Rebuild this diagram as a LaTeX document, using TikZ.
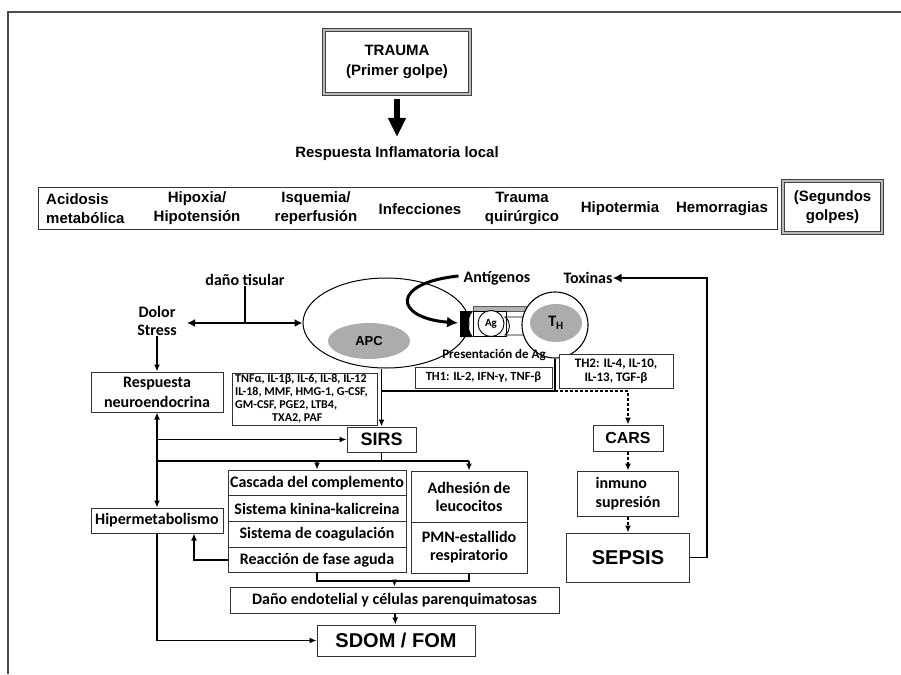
\documentclass[tikz,border=0pt]{standalone}
\usepackage{fontspec}
\setmainfont{Liberation Sans}
\newfontfamily\calib{Carlito}
\usetikzlibrary{arrows.meta,shapes.geometric,calc}
\begin{document}
\begin{tikzpicture}[x=1pt,y=-1pt,
  conn/.style={line width=1.8pt, draw=black},
  arr/.style={-{Latex[length=7pt,width=6pt]}},
  dconn/.style={line width=1.6pt, draw=black, dash pattern=on 3pt off 2pt},
  box/.style={draw=black!80, line width=1pt, fill=white, inner sep=0pt, align=center},
  bigbox/.style={draw=black!75, line width=1.3pt, double=gray!55, double distance=1.3pt, inner sep=0pt, align=center},
  ar15/.style={font=\fontsize{15}{19}\selectfont\bfseries, inner sep=0pt, align=center},
  cal16/.style={font=\calib\bfseries\fontsize{16}{19}\selectfont, inner sep=0pt, align=center},
  cal13/.style={font=\calib\bfseries\fontsize{13}{14}\selectfont, inner sep=0pt, align=center},
  cal12/.style={font=\calib\bfseries\fontsize{12}{13}\selectfont, inner sep=0pt, align=left},
  grayfill/.style={fill=gray!65},
]
\useasboundingbox (0,0) rectangle (901,674);
% frame
\draw[draw=black!70, line width=1.3pt] (8,674) -- (8,12) -- (901,12);

% top
\node[bigbox, minimum width=146pt, minimum height=64pt, font=\fontsize{15}{20}\selectfont\bfseries] (trauma) at (397,62) {TRAUMA\\(Primer golpe)};
\node[ar15] (resp) at (397,154) {Respuesta Inflamatoria local};
\draw[line width=6pt, -{Triangle[width=17pt,length=19pt]}] ([yshift=-4pt]trauma.south) -- ([yshift=10pt]resp.north);

% row of second hits
\node[box, minimum width=739pt, minimum height=42pt] (row) at (407.5,208) {};
\node[ar15, align=left, anchor=west] (acid) at (46,208.5) {Acidosis\\metabólica};
\node[ar15] (hipox) at (197,208.5) {Hipoxia/\\Hipotensión};
\node[ar15] (isq) at (316,208.5) {Isquemia/\\reperfusión};
\node[ar15] (inf) at (420,209) {Infecciones};
\node[ar15] (trq) at (522,208.5) {Trauma\\quirúrgico};
\node[ar15] (hipot) at (620,209) {Hipotermia};
\node[ar15] (hemo) at (722,209) {Hemorragias};
\node[bigbox, minimum width=99pt, minimum height=52pt, font=\fontsize{15}{19}\selectfont\bfseries] (seg) at (832.5,207) {(Segundos\\golpes)};

% APC cell
\node[draw=black, line width=1pt, ellipse, fill=white, minimum width=166pt, minimum height=90pt] (apc) at (386,323) {};
\node[ellipse, grayfill, minimum width=82pt, minimum height=36pt, inner sep=0pt, font=\fontsize{13}{15}\selectfont\bfseries] (apcin) at (369,341) {APC};

% receptor and MHC complex
\fill[black] (460,311) -- (473,311) .. controls (467,318) and (467,330) .. (473,337) -- (460,337) -- cycle;
\draw[draw=gray!70!black, fill=gray!60, line width=0.6pt] (473,306) rectangle (531,311);
\draw[line width=0.9pt, fill=white] (473,311) rectangle (506,336);
\draw[line width=0.9pt, fill=white] (505,317) -- (529,317) -- (529,335) -- (505,335) .. controls (511,331) and (511,321) .. (505,317) -- cycle;
\node[circle, draw=black, line width=0.9pt, fill=white, minimum size=26pt, inner sep=0pt, font=\calib\bfseries\fontsize{11}{12}\selectfont] (ag) at (491,323.5) {Ag};

% TH cell
\node[circle, draw=black, line width=1.1pt, fill=white, minimum size=66pt, inner sep=0pt] (th) at (555,325) {};
\node[ellipse, grayfill, minimum width=52pt, minimum height=38pt, inner sep=0pt, font=\calib\bfseries\fontsize{16}{18}\selectfont] (thin) at (556,323) {T\textsubscript{H}};

% labels near cells
\node[cal16] (ant) at (497,278) {Antígenos};
\node[cal16] (tox) at (588,278) {Toxinas};
\node[cal16] (dano) at (245,280) {daño tisular};
\node[cal16, font=\calib\bfseries\fontsize{16}{18}\selectfont] (dolor) at (157,321) {Dolor\\Stress};
\node[cal13] (pres) at (494,355) {Presentación de Ag};
\coordinate (danoj) at (245,323);
\coordinate (dolt) at (187,323);
\coordinate (rectip) at (458,323);

\draw[line width=3pt, -{Latex[length=11pt,width=11pt]}] ([xshift=-5pt,yshift=2pt]ant.west) .. controls (390,283) and (394,318) .. (rectip);

% boxes
\node[box, minimum width=132pt, minimum height=40pt, font=\calib\bfseries\fontsize{16}{20}\selectfont] (neuro) at (157,392) {Respuesta\\neuroendocrina};
\node[box, minimum width=145pt, minimum height=52pt] (cyto) at (304.5,399) {};
\node[cal12, anchor=north west] (cytot) at (235,374) {TNFα, IL-1β, IL-6, IL-8, IL-12\\IL-18, MMF, HMG-1, G-CSF,\\GM-CSF, PGE2, LTB4,\\\hspace*{37pt}TXA2, PAF};
\node[box, minimum width=137pt, minimum height=21pt, font=\calib\bfseries\fontsize{12.5}{14}\selectfont] (th1) at (483.5,377.5) {TH1: IL-2, IFN-γ, TNF-β};
\node[box, minimum width=114pt, minimum height=34pt, font=\calib\bfseries\fontsize{13}{14}\selectfont] (th2) at (616,371) {TH2: IL-4, IL-10,\\IL-13, TGF-β};
\node[box, minimum width=69pt, minimum height=25pt, font=\fontsize{18}{20}\selectfont\bfseries] (sirs) at (381.5,439.5) {SIRS};
\node[box, minimum width=132pt, minimum height=25pt, font=\calib\bfseries\fontsize{16}{19}\selectfont] (hiper) at (157,520.5) {Hipermetabolismo};

\node[box, minimum width=178pt, minimum height=25.75pt, font=\calib\bfseries\fontsize{16}{19}\selectfont] (casc1) at (317,482.9) {Cascada del complemento};
\node[box, minimum width=178pt, minimum height=25.75pt, font=\calib\bfseries\fontsize{16}{19}\selectfont] (casc2) at (317,508.6) {Sistema kinina-kalicreina};
\node[box, minimum width=178pt, minimum height=25.75pt, font=\calib\bfseries\fontsize{16}{19}\selectfont] (casc3) at (317,534.4) {Sistema de coagulación};
\node[box, minimum width=178pt, minimum height=25.75pt, font=\calib\bfseries\fontsize{16}{19}\selectfont] (casc4) at (317,560.1) {Reacción de fase aguda};

\node[box, minimum width=116pt, minimum height=51pt, font=\calib\bfseries\fontsize{16}{18}\selectfont] (adh) at (469,496.5) {Adhesión de\\leucocitos};
\node[box, minimum width=116pt, minimum height=51pt, font=\calib\bfseries\fontsize{16}{18}\selectfont] (pmn) at (469,547.5) {PMN-estallido\\respiratorio};

\node[box, minimum width=329pt, minimum height=26pt, font=\calib\bfseries\fontsize{16}{19}\selectfont] (endo) at (394.5,600) {Daño endotelial y células parenquimatosas};
\node[box, minimum width=158pt, minimum height=31pt, font=\fontsize{20}{22}\selectfont\bfseries] (sdom) at (396,640.5) {SDOM / FOM};

\node[box, minimum width=70pt, minimum height=26pt, font=\fontsize{16}{18}\selectfont\bfseries] (cars) at (628,438) {CARS};
\node[box, minimum width=101pt, minimum height=45pt, font=\calib\bfseries\fontsize{16}{19}\selectfont, align=left] (inm) at (628,493.5) {inmuno\\supresión};
\node[box, minimum width=123pt, minimum height=49pt, font=\fontsize{20}{22}\selectfont\bfseries] (sepsis) at (628,557.5) {SEPSIS};

% connectors
\draw[conn] (dano) -- (danoj);
\draw[conn, {Latex[length=8pt,width=8pt]}-{Latex[length=8pt,width=8pt]}] (dolt) -- (apc.west);
\draw[conn, arr] (dolor) -- (neuro);
\draw[conn, {Latex[length=7pt,width=6pt]}-{Latex[length=7pt,width=6pt]}] (neuro.south) -- (hiper.north);
\coordinate (l1) at (157,439.5);
\coordinate (l2) at (157,461);
\coordinate (r2) at (469,461);
\draw[conn, arr] (l1) -- (sirs.west);
\draw[conn] (l2) -- (r2);
\draw[conn] (sirs.south) -- (sirs.south |- l2);
\draw[conn, arr] (casc1.north |- l2) -- (casc1.north);
\draw[conn, arr] (r2) -- (adh.north);
\draw[conn, arr] (sirs.north |- apc.south) -- (sirs.north);
\coordinate (thj) at (555,391);
\draw[conn] (th.south) -- (thj) -- (sirs.north |- thj);
\draw[dconn, arr] (thj) -- (cars.north |- thj) -- (cars.north);
\draw[conn, arr] (casc4.west) -| ($(hiper.south)+(37,0)$);
\draw[conn, arr] (hiper.south) |- (sdom.west);
\coordinate (bj) at (394.5,581);
\draw[conn] (casc4.south) |- (bj) -| (pmn.south);
\draw[conn, arr] (bj) -- (endo.north);
\draw[conn, arr] (endo) -- (sdom);
\draw[dconn, arr] (cars) -- (inm);
\draw[dconn, arr] (inm) -- (sepsis);
\draw[conn, -{Latex[length=9pt,width=9pt]}] (sepsis.east) -- ++(17,0) |- (tox.east);
\end{tikzpicture}
\end{document}
